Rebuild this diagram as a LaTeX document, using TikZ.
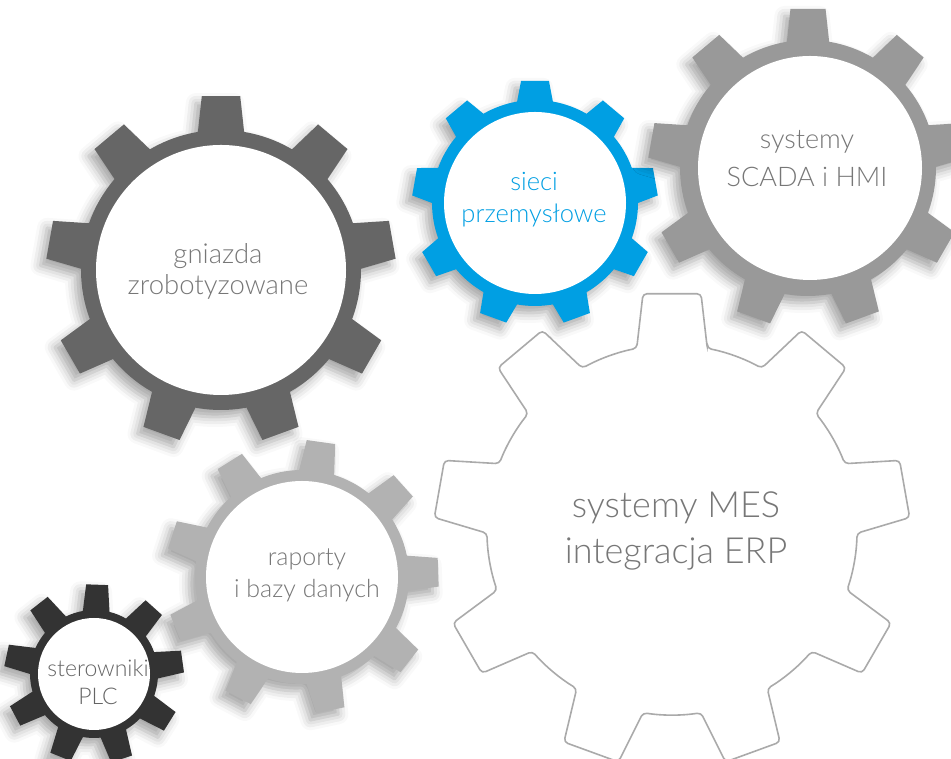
\documentclass[tikz,border=0pt]{standalone}
\usepackage{fontspec}
\setmainfont{Lato}[UprightFont={* Light}]
\usetikzlibrary{shadows.blur}
\definecolor{gDark}{HTML}{666666}
\definecolor{gBlue}{HTML}{009FE3}
\definecolor{gMid}{HTML}{999999}
\definecolor{gLight}{HTML}{B2B2B2}
\definecolor{gBlack}{HTML}{333333}
\definecolor{gLine}{HTML}{AAAAAA}
\definecolor{gText}{HTML}{777777}
\tikzset{
  gearshadow/.style={blur shadow={shadow xshift=-6pt,shadow yshift=-7pt,shadow blur radius=10pt,shadow opacity=35}},
  hub/.style={fill=white},
  lab/.style={align=center,text=gText,inner sep=0pt},
}
% #1 options, #2 cx, #3 cy, #4 root radius, #5 tip radius, #6 rotation, #7 half base angle, #8 half tip angle
\newcommand{\gearshape}[8]{%
  \path[#1,shift={(#2,#3)}] ({#6-#7}:#4)
    \foreach \k in {0,...,8}{
      -- ({#6+40*\k-#8}:#5) -- ({#6+40*\k+#8}:#5) -- ({#6+40*\k+#7}:#4)
      arc[start angle={#6+40*\k+#7},end angle={#6+40*(\k+1)-#7},radius=#4]
    } -- cycle;
}
\begin{document}
\begin{tikzpicture}[x=1pt,y=1pt]
\useasboundingbox (0,0) rectangle (951,759);
% MES gear (outline)
\gearshape{draw=gLine,line width=1.6pt,rounded corners=4pt,fill=white}{672}{229}{185}{238}{90}{11}{7}
\node[lab,font=\fontsize{36}{46}\selectfont] (mes) at (676,228) {systemy MES\\integracja ERP};
% gniazda zrobotyzowane
\gearshape{fill=gDark,gearshadow}{221}{489}{140}{175}{90}{9.5}{6.3}
\fill[hub] (221,489) circle[radius=125];
\node[lab,font=\fontsize{27.5}{31}\selectfont] (gn) at (218,488) {gniazda\\zrobotyzowane};
% sieci przemyslowe
\gearshape{fill=gBlue,gearshadow}{535}{556}{103}{123}{90}{10}{6.5}
\fill[hub] (535,556) circle[radius=91];
\node[lab,text=gBlue,font=\fontsize{25.5}{32}\selectfont] (si) at (534,559) {sieci\\przemysłowe};
% SCADA
\gearshape{fill=gMid,gearshadow}{808}{591}{128}{160}{90}{9.5}{6.3}
\fill[hub] (810,591) circle[radius=112];
\node[lab,font=\fontsize{27}{38}\selectfont] (sc) at (807,600) {systemy\\SCADA i HMI};
% raporty
\gearshape{fill=gLight,gearshadow}{302}{182}{107}{137}{82}{9.5}{6}
\fill[hub] (302,182) circle[radius=96];
\node[lab,font=\fontsize{25}{32}\selectfont] (ra) at (307,184) {raporty\\i bazy danych};
% PLC
\gearshape{fill=gBlack,gearshadow}{94}{85}{64}{90}{88}{12}{7}
\fill[hub] (94,85) circle[radius=56];
\node[lab,text=gText!85!black,font=\fontsize{23}{28}\selectfont] (plc) at (98,77) {sterowniki\\PLC};
\end{tikzpicture}
\end{document}
